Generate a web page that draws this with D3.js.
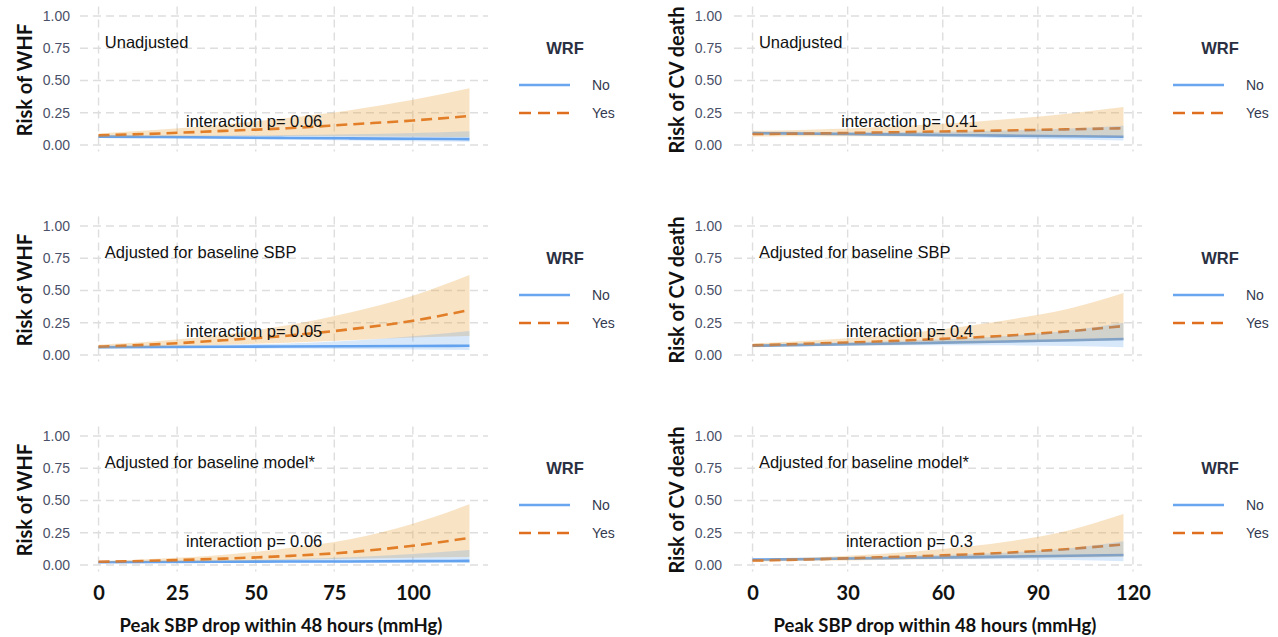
<!DOCTYPE html>
<html>
<head>
<meta charset="utf-8">
<script src="https://cdn.jsdelivr.net/npm/d3@7"></script>
<style>
  html, body { margin: 0; padding: 0; background: #fff; }
  svg { display: block; }
</style>
</head>
<body>
<svg id="chart" width="1278" height="637"></svg>
<script>
// ---------------- DATA ----------------
const xLeft  = [0, 20, 40, 60, 80, 100, 118];
const xRight = [0, 20, 40, 60, 80, 100, 117];
const yTicks = [0, 0.25, 0.5, 0.75, 1.0];
const yTickLabels = ["0.00", "0.25", "0.50", "0.75", "1.00"];
const xTicksLeft = [0, 25, 50, 75, 100];
const xTicksRight = [0, 30, 60, 90, 120];
const groups = ["No", "Yes"];
const panelTitles = ["Unadjusted", "Adjusted for baseline SBP", "Adjusted for baseline model*"];
const yTitleLeft = "Risk of WHF";
const yTitleRight = "Risk of CV death";
const xTitle = "Peak SBP drop within 48 hours (mmHg)";
const legendTitle = "WRF";
const pLeft  = ["interaction p= 0.06", "interaction p= 0.05", "interaction p= 0.06"];
const pRight = ["interaction p= 0.41", "interaction p= 0.4", "interaction p= 0.3"];

// WHF, unadjusted
const whf1NoEst  = [0.065, 0.062, 0.058, 0.055, 0.052, 0.049, 0.046];
const whf1NoLo   = [0.055, 0.052, 0.047, 0.042, 0.036, 0.030, 0.025];
const whf1NoHi   = [0.075, 0.074, 0.074, 0.077, 0.083, 0.093, 0.106];
const whf1YesEst = [0.075, 0.090, 0.110, 0.130, 0.160, 0.190, 0.225];
const whf1YesLo  = [0.060, 0.066, 0.070, 0.070, 0.068, 0.065, 0.062];
const whf1YesHi  = [0.090, 0.120, 0.160, 0.210, 0.270, 0.350, 0.440];
// WHF, adjusted for baseline SBP
const whf2NoEst  = [0.060, 0.062, 0.064, 0.066, 0.068, 0.070, 0.072];
const whf2NoLo   = [0.050, 0.052, 0.052, 0.050, 0.047, 0.043, 0.040];
const whf2NoHi   = [0.072, 0.075, 0.080, 0.090, 0.110, 0.145, 0.186];
const whf2YesEst = [0.065, 0.085, 0.115, 0.150, 0.200, 0.265, 0.350];
const whf2YesLo  = [0.050, 0.065, 0.080, 0.095, 0.115, 0.135, 0.147];
const whf2YesHi  = [0.080, 0.110, 0.160, 0.230, 0.330, 0.460, 0.620];
// WHF, adjusted for baseline model
const whf3NoEst  = [0.022, 0.024, 0.026, 0.027, 0.028, 0.030, 0.032];
const whf3NoLo   = [0.018, 0.019, 0.020, 0.020, 0.019, 0.017, 0.015];
const whf3NoHi   = [0.027, 0.030, 0.035, 0.045, 0.060, 0.085, 0.116];
const whf3YesEst = [0.025, 0.035, 0.050, 0.070, 0.100, 0.150, 0.210];
const whf3YesLo  = [0.020, 0.025, 0.032, 0.040, 0.048, 0.056, 0.062];
const whf3YesHi  = [0.030, 0.050, 0.080, 0.130, 0.200, 0.320, 0.470];
// CV death, unadjusted
const cv1NoEst  = [0.092, 0.088, 0.083, 0.078, 0.073, 0.068, 0.064];
const cv1NoLo   = [0.082, 0.077, 0.070, 0.062, 0.053, 0.043, 0.035];
const cv1NoHi   = [0.103, 0.101, 0.100, 0.103, 0.112, 0.128, 0.150];
const cv1YesEst = [0.085, 0.090, 0.097, 0.105, 0.113, 0.122, 0.130];
const cv1YesLo  = [0.065, 0.068, 0.068, 0.067, 0.065, 0.062, 0.058];
const cv1YesHi  = [0.110, 0.120, 0.140, 0.165, 0.200, 0.245, 0.295];
// CV death, adjusted for baseline SBP
const cv2NoEst  = [0.072, 0.080, 0.088, 0.096, 0.105, 0.115, 0.124];
const cv2NoLo   = [0.062, 0.068, 0.073, 0.075, 0.075, 0.070, 0.060];
const cv2NoHi   = [0.083, 0.093, 0.105, 0.122, 0.148, 0.190, 0.250];
const cv2YesEst = [0.075, 0.090, 0.105, 0.125, 0.150, 0.185, 0.225];
const cv2YesLo  = [0.060, 0.070, 0.075, 0.085, 0.095, 0.105, 0.115];
const cv2YesHi  = [0.090, 0.115, 0.150, 0.200, 0.270, 0.360, 0.480];
// CV death, adjusted for baseline model
const cv3NoEst  = [0.042, 0.047, 0.053, 0.059, 0.065, 0.072, 0.078];
const cv3NoLo   = [0.035, 0.038, 0.042, 0.044, 0.044, 0.040, 0.030];
const cv3NoHi   = [0.050, 0.057, 0.066, 0.078, 0.096, 0.130, 0.185];
const cv3YesEst = [0.035, 0.045, 0.060, 0.075, 0.095, 0.125, 0.160];
const cv3YesLo  = [0.027, 0.034, 0.040, 0.046, 0.052, 0.058, 0.065];
const cv3YesHi  = [0.045, 0.060, 0.085, 0.125, 0.180, 0.270, 0.395];

// ---------------- BUILD ----------------
function series(xs, est, lo, hi) { return xs.map((x, i) => ({x, est: est[i], lo: lo[i], hi: hi[i]})); }

const panels = [
  {col: 0, row: 0, xs: xLeft, no: [whf1NoEst, whf1NoLo, whf1NoHi], yes: [whf1YesEst, whf1YesLo, whf1YesHi]},
  {col: 0, row: 1, xs: xLeft, no: [whf2NoEst, whf2NoLo, whf2NoHi], yes: [whf2YesEst, whf2YesLo, whf2YesHi]},
  {col: 0, row: 2, xs: xLeft, no: [whf3NoEst, whf3NoLo, whf3NoHi], yes: [whf3YesEst, whf3YesLo, whf3YesHi]},
  {col: 1, row: 0, xs: xRight, no: [cv1NoEst, cv1NoLo, cv1NoHi], yes: [cv1YesEst, cv1YesLo, cv1YesHi]},
  {col: 1, row: 1, xs: xRight, no: [cv2NoEst, cv2NoLo, cv2NoHi], yes: [cv2YesEst, cv2YesLo, cv2YesHi]},
  {col: 1, row: 2, xs: xRight, no: [cv3NoEst, cv3NoLo, cv3NoHi], yes: [cv3YesEst, cv3YesLo, cv3YesHi]},
];

const svg = d3.select("#chart");
const colLayout = [
  {x0: 80, x1: 488, tickRight: 70, yTitleX: 24, legLine0: 519, legLine1: 570, legText: 592, legTitleX: 565, xTicks: xTicksLeft},
  {x0: 734, x1: 1142, tickRight: 722, yTitleX: 676, legLine0: 1173, legLine1: 1224, legText: 1246, legTitleX: 1220, xTicks: xTicksRight},
];
const rowOffset = [0, 210, 420];
const plotTop = 9.5, plotBottom = 151.5;

const blueLine = "#6aa6f0", orangeLine = "#df6f1e";
const blueFill = "#4f95ec", orangeFill = "#e8a33e";
const gridColor = "#dedede";
const tickColor = "#4a5068";
const dash = "11,6";

panels.forEach(p => {
  const L = colLayout[p.col];
  const oy = rowOffset[p.row];
  const xMax = d3.max(p.xs), xMin = d3.min(p.xs);
  const ex = (xMax - xMin) * 0.05;
  const x = d3.scaleLinear().domain([xMin - ex, xMax + ex]).range([L.x0, L.x1]);
  const y = d3.scaleLinear().domain([-0.05, 1.05]).range([oy + plotBottom, oy + plotTop]);
  const g = svg.append("g");

  // grid
  const xt = L.xTicks.filter(t => t <= xMax + ex);
  g.selectAll(".hg").data(yTicks).join("line")
    .attr("x1", L.x0).attr("x2", L.x1).attr("y1", d => y(d)).attr("y2", d => y(d))
    .attr("stroke", gridColor).attr("stroke-width", 1.4).attr("stroke-dasharray", "8,5");
  g.selectAll(".vg").data(xt).join("line")
    .attr("x1", d => x(d)).attr("x2", d => x(d)).attr("y1", oy + plotTop - 3).attr("y2", oy + plotBottom)
    .attr("stroke", gridColor).attr("stroke-width", 1.4).attr("stroke-dasharray", "8,5");

  // y tick labels via axis
  const yAxis = d3.axisLeft(y).tickValues(yTicks).tickFormat((d, i) => yTickLabels[i]).tickSize(0).tickPadding(0);
  const ya = g.append("g").attr("transform", `translate(${L.tickRight},0)`).call(yAxis);
  ya.select(".domain").remove();
  ya.selectAll("text").attr("fill", tickColor).style("font-family", "'Liberation Sans', Arial, sans-serif").style("font-size", "14px");

  // y title
  g.append("text")
    .attr("transform", `translate(${L.yTitleX},${oy + 80}) rotate(-90)`)
    .attr("text-anchor", "middle").attr("dominant-baseline", "central")
    .style("font-family", "Lato, 'Open Sans', sans-serif").style("font-weight", "bold").style("font-size", "20px")
    .attr("fill", "#111").text(p.col === 0 ? yTitleLeft : yTitleRight);

  const noData = series(p.xs, ...p.no);
  const yesData = series(p.xs, ...p.yes);
  const line = d3.line().x(d => x(d.x)).y(d => y(d.est)).curve(d3.curveMonotoneX);
  const area = d3.area().x(d => x(d.x)).y0(d => y(d.lo)).y1(d => y(d.hi)).curve(d3.curveMonotoneX);

  // lines first, then ribbons (as in the original layering)
  g.append("path").datum(noData).attr("d", line).attr("fill", "none")
    .attr("stroke", blueLine).attr("stroke-width", 2.6);
  g.append("path").datum(yesData).attr("d", line).attr("fill", "none")
    .attr("stroke", orangeLine).attr("stroke-width", 2.6).attr("stroke-dasharray", dash);
  g.append("path").datum(yesData).attr("d", area).attr("fill", orangeFill).attr("fill-opacity", 0.3);
  g.append("path").datum(noData).attr("d", area).attr("fill", blueFill).attr("fill-opacity", 0.22);

  // annotations
  g.append("text").attr("x", x(2)).attr("y", y(0.8)).attr("dominant-baseline", "central")
    .style("font-family", "'Liberation Sans', Arial, sans-serif").style("font-size", "16.5px").attr("fill", "#111")
    .text(panelTitles[p.row]);
  g.append("text").attr("x", x(49.5)).attr("y", y(0.19)).attr("dominant-baseline", "central").attr("text-anchor", "middle")
    .style("font-family", "'Liberation Sans', Arial, sans-serif").style("font-size", "16.5px").attr("fill", "#111")
    .text(p.col === 0 ? pLeft[p.row] : pRight[p.row]);

  // legend
  g.append("text").attr("x", L.legTitleX).attr("y", oy + 48).attr("text-anchor", "middle").attr("dominant-baseline", "central")
    .style("font-family", "'Liberation Sans', Arial, sans-serif").style("font-weight", "bold").style("font-size", "16.5px")
    .attr("fill", "#2a3042").text(legendTitle);
  groups.forEach((grp, i) => {
    const ly = oy + 85 + i * 28;
    g.append("line").attr("x1", L.legLine0).attr("x2", L.legLine1).attr("y1", ly).attr("y2", ly)
      .attr("stroke", i === 0 ? blueLine : orangeLine).attr("stroke-width", 2.6)
      .attr("stroke-dasharray", i === 0 ? null : "12,7");
    g.append("text").attr("x", L.legText).attr("y", ly).attr("dominant-baseline", "central")
      .style("font-family", "'Liberation Sans', Arial, sans-serif").style("font-size", "14px")
      .attr("fill", "#333a50").text(grp);
  });

  // x axis on bottom row
  if (p.row === 2) {
    const xAxis = d3.axisBottom(x).tickValues(L.xTicks).tickSize(0).tickPadding(0);
    const xa = g.append("g").attr("transform", `translate(0,593)`).call(xAxis);
    xa.select(".domain").remove();
    xa.selectAll("text").attr("fill", "#111").attr("y", 0).attr("dy", "0.35em")
      .style("font-family", "Lato, 'Open Sans', sans-serif").style("font-weight", "bold").style("font-size", "20px");
    g.append("text").attr("x", (L.x0 + L.x1) / 2 - 3).attr("y", 625).attr("text-anchor", "middle").attr("dominant-baseline", "central")
      .style("font-family", "Lato, 'Open Sans', sans-serif").style("font-weight", "bold").style("font-size", "18.5px")
      .attr("fill", "#111").text(xTitle);
  }
});
</script>
</body>
</html>
